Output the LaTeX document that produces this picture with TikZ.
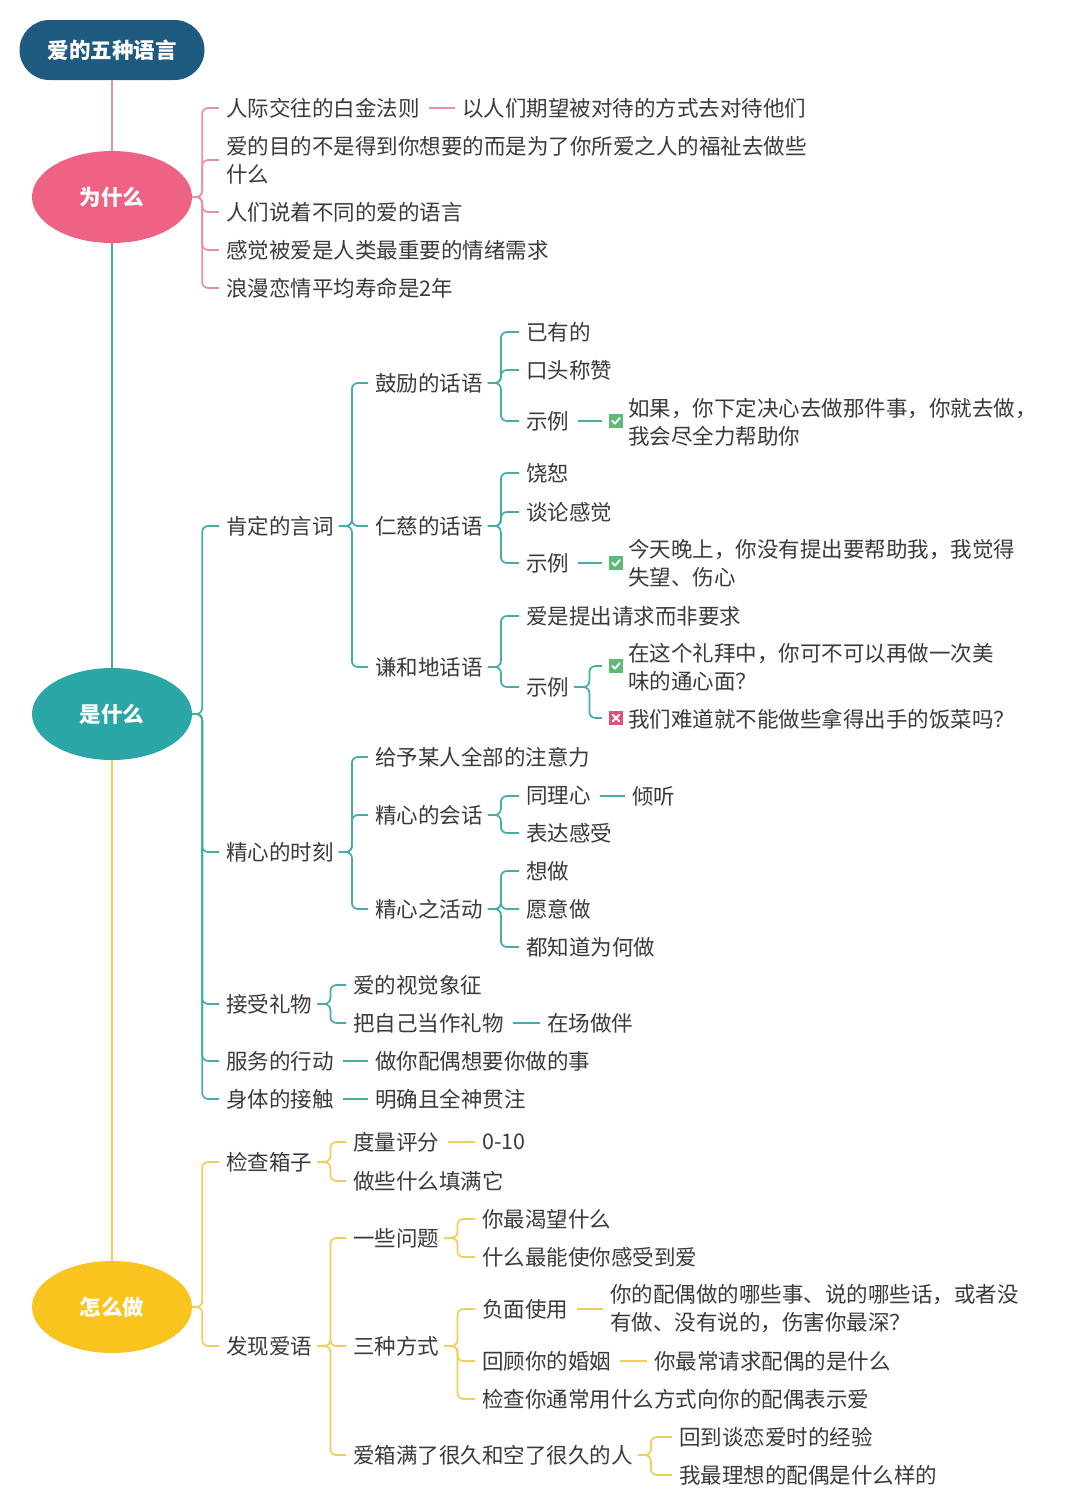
\documentclass[tikz,border=0pt]{standalone}
\usepackage{fontspec}
\setmainfont{Noto Sans CJK SC}
\usetikzlibrary{shapes.geometric}
\definecolor{rootc}{HTML}{1F5A80}
\definecolor{pinkc}{HTML}{EE6383}
\definecolor{pinkl}{HTML}{E98FA3}
\definecolor{tealc}{HTML}{2BA6A6}
\definecolor{teall}{HTML}{45ABAB}
\definecolor{yelc}{HTML}{F8C41D}
\definecolor{yell}{HTML}{F2CD57}
\definecolor{txtc}{HTML}{3A3A3A}
\definecolor{chkc}{HTML}{5FBA7A}
\definecolor{crsc}{HTML}{DC5479}
\tikzset{
  txt/.style={anchor=west, inner xsep=0pt, inner ysep=1pt, font=\fontsize{21.5}{28}\selectfont, text=txtc, align=left},
  topic/.style={ellipse, minimum width=160pt, minimum height=92pt, inner sep=0pt, fill=#1, text=white, font=\fontsize{21.5}{26}\selectfont\bfseries},
  lnk/.style={draw=#1, line width=1.7pt, rounded corners=6pt},
  conn/.style 2 args={to path={([xshift=#1]\tikztostart.east) -- ([xshift=#2]\tikztostart.east) |- ([xshift=-7pt]\tikztotarget.west)}},
  c/.style={conn={5pt}{18pt}},
  ce/.style={conn={0pt}{10pt}},
  sl/.style={to path={([xshift=9pt]\tikztostart.east) -- ([xshift=-7pt]\tikztotarget.west)}},
  chk/.style={fill=chkc, minimum size=14pt, inner sep=0pt, path picture={
      \draw[white, line width=1.8pt, line cap=round, line join=round]
        ([xshift=-3.8pt,yshift=0.3pt]path picture bounding box.center) --
        ([xshift=-1pt,yshift=-2.6pt]path picture bounding box.center) --
        ([xshift=3.8pt,yshift=3pt]path picture bounding box.center);}},
  crs/.style={fill=crsc, minimum size=14pt, inner sep=0pt, path picture={
      \draw[white, line width=1.8pt, line cap=round]
        ([xshift=-3.2pt,yshift=-3.2pt]path picture bounding box.center) --
        ([xshift=3.2pt,yshift=3.2pt]path picture bounding box.center)
        ([xshift=-3.2pt,yshift=3.2pt]path picture bounding box.center) --
        ([xshift=3.2pt,yshift=-3.2pt]path picture bounding box.center);}},
}
\begin{document}
\begin{tikzpicture}[x=1pt,y=-1pt]
\fill[white] (0,0) rectangle (1080,1508);
\useasboundingbox (0,0) rectangle (1080,1508);

% root and topics
\node[fill=rootc, rounded corners=30pt, minimum width=185pt, minimum height=60pt, text=white, font=\fontsize{21.5}{26}\selectfont\bfseries] (root) at (112,50) {爱的五种语言};
\node[topic=pinkc] (why) at (112,197) {为什么};
\node[topic=tealc] (what) at (112,714) {是什么};
\node[topic=yelc] (how) at (112,1307) {怎么做};
\draw[pinkl, line width=2pt] (root) -- (why);
\draw[teall, line width=2pt] (why) -- (what);
\draw[yell, line width=2pt] (what) -- (how);

% ---------- 为什么 ----------
\node[txt] (w1) at (226,108) {人际交往的白金法则};
\node[txt] (w1a) at (462,108) {以人们期望被对待的方式去对待他们};
\node[txt] (w2) at (226,160) {爱的目的不是得到你想要的而是为了你所爱之人的福祉去做些\\什么};
\node[txt] (w3) at (226,212) {人们说着不同的爱的语言};
\node[txt] (w4) at (226,250) {感觉被爱是人类最重要的情绪需求};
\node[txt] (w5) at (226,288) {浪漫恋情平均寿命是2年};
\draw[lnk=pinkl] (why) edge[ce] (w1) edge[ce] (w2) edge[ce] (w3) edge[ce] (w4) edge[ce] (w5);
\draw[lnk=pinkl] (w1) edge[sl] (w1a);

% ---------- 是什么 ----------
\node[txt] (a1) at (226,526) {肯定的言词};
\node[txt] (a2) at (226,852) {精心的时刻};
\node[txt] (a3) at (226,1004) {接受礼物};
\node[txt] (a4) at (226,1061) {服务的行动};
\node[txt] (a5) at (226,1099) {身体的接触};
\draw[lnk=teall] (what) edge[ce] (a1) edge[ce] (a2) edge[ce] (a3) edge[ce] (a4) edge[ce] (a5);

\node[txt] (b1) at (375,383) {鼓励的话语};
\node[txt] (b2) at (375,526) {仁慈的话语};
\node[txt] (b3) at (375,667) {谦和地话语};
\draw[lnk=teall] (a1) edge[c] (b1) edge[c] (b2) edge[c] (b3);

\node[txt] (c1) at (526,332) {已有的};
\node[txt] (c2) at (526,370) {口头称赞};
\node[txt] (c3) at (526,421) {示例};
\draw[lnk=teall] (b1) edge[c] (c1) edge[c] (c2) edge[c] (c3);
\node[chk] (k1) at (616,421) {};
\node[txt] (e1) at (628,422) {如果，你下定决心去做那件事，你就去做，\\我会尽全力帮助你};
\draw[lnk=teall] (c3) edge[sl] (k1);

\node[txt] (c4) at (526,473) {饶恕};
\node[txt] (c5) at (526,512) {谈论感觉};
\node[txt] (c6) at (526,563) {示例};
\draw[lnk=teall] (b2) edge[c] (c4) edge[c] (c5) edge[c] (c6);
\node[chk] (k2) at (616,563) {};
\node[txt] (e2) at (628,563) {今天晚上，你没有提出要帮助我，我觉得\\失望、伤心};
\draw[lnk=teall] (c6) edge[sl] (k2);

\node[txt] (c7) at (526,616) {爱是提出请求而非要求};
\node[txt] (c8) at (526,687) {示例};
\draw[lnk=teall] (b3) edge[c] (c7) edge[c] (c8);
\node[chk] (k3) at (616,666) {};
\node[txt] (e3) at (628,667) {在这个礼拜中，你可不可以再做一次美\\味的通心面？};
\node[crs] (x1) at (616,718) {};
\node[txt] (e4) at (628,719) {我们难道就不能做些拿得出手的饭菜吗？};
\draw[lnk=teall] (c8) edge[conn={5pt}{20pt}] (k3) edge[conn={5pt}{20pt}] (x1);

\node[txt] (b4) at (375,757) {给予某人全部的注意力};
\node[txt] (b5) at (375,815) {精心的会话};
\node[txt] (b6) at (375,909) {精心之活动};
\draw[lnk=teall] (a2) edge[c] (b4) edge[c] (b5) edge[c] (b6);
\node[txt] (c9) at (526,796) {同理心};
\node[txt] (d1) at (632,796) {倾听};
\node[txt] (c10) at (526,833) {表达感受};
\draw[lnk=teall] (b5) edge[c] (c9) edge[c] (c10);
\draw[lnk=teall] (c9) edge[sl] (d1);
\node[txt] (c11) at (526,871) {想做};
\node[txt] (c12) at (526,909) {愿意做};
\node[txt] (c13) at (526,947) {都知道为何做};
\draw[lnk=teall] (b6) edge[c] (c11) edge[c] (c12) edge[c] (c13);

\node[txt] (b7) at (353,985) {爱的视觉象征};
\node[txt] (b8) at (353,1023) {把自己当作礼物};
\node[txt] (b8a) at (547,1023) {在场做伴};
\draw[lnk=teall] (a3) edge[c] (b7) edge[c] (b8);
\draw[lnk=teall] (b8) edge[sl] (b8a);
\node[txt] (a4a) at (375,1061) {做你配偶想要你做的事};
\node[txt] (a5a) at (375,1099) {明确且全神贯注};
\draw[lnk=teall] (a4) edge[sl] (a4a);
\draw[lnk=teall] (a5) edge[sl] (a5a);

% ---------- 怎么做 ----------
\node[txt] (h1) at (226,1162) {检查箱子};
\node[txt] (h2) at (226,1346) {发现爱语};
\draw[lnk=yell] (how) edge[ce] (h1) edge[ce] (h2);

\node[txt] (i1) at (353,1142) {度量评分};
\node[txt] (i1a) at (482,1142) {0-10};
\node[txt] (i2) at (353,1181) {做些什么填满它};
\draw[lnk=yell] (h1) edge[c] (i1) edge[c] (i2);
\draw[lnk=yell] (i1) edge[sl] (i1a);

\node[txt] (i3) at (353,1238) {一些问题};
\node[txt] (i4) at (353,1346) {三种方式};
\node[txt] (i5) at (353,1455) {爱箱满了很久和空了很久的人};
\draw[lnk=yell] (h2) edge[c] (i3) edge[c] (i4) edge[c] (i5);

\node[txt] (j1) at (482,1219) {你最渴望什么};
\node[txt] (j2) at (482,1257) {什么最能使你感受到爱};
\draw[lnk=yell] (i3) edge[c] (j1) edge[c] (j2);

\node[txt] (j3) at (482,1309) {负面使用};
\node[txt] (j3a) at (610,1309) {你的配偶做的哪些事、说的哪些话，或者没\\有做、没有说的，伤害你最深？};
\node[txt] (j4) at (482,1361) {回顾你的婚姻};
\node[txt] (j4a) at (654,1361) {你最常请求配偶的是什么};
\node[txt] (j5) at (482,1399) {检查你通常用什么方式向你的配偶表示爱};
\draw[lnk=yell] (i4) edge[c] (j3) edge[c] (j4) edge[c] (j5);
\draw[lnk=yell] (j3) edge[sl] (j3a);
\draw[lnk=yell] (j4) edge[sl] (j4a);

\node[txt] (j6) at (679,1437) {回到谈恋爱时的经验};
\node[txt] (j7) at (679,1475) {我最理想的配偶是什么样的};
\draw[lnk=yell] (i5) edge[c] (j6) edge[c] (j7);
\end{tikzpicture}
\end{document}
